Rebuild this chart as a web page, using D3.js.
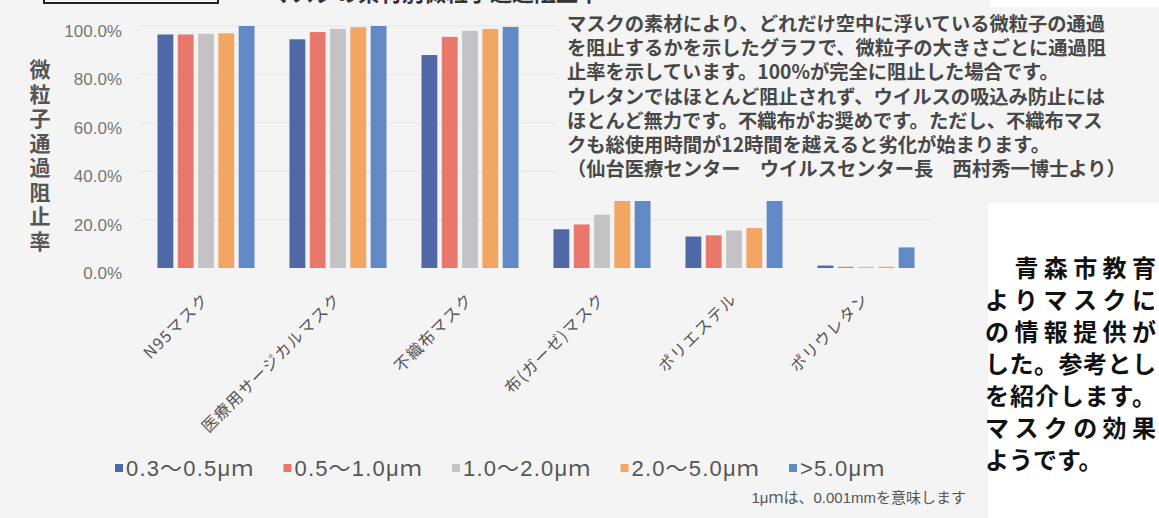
<!DOCTYPE html>
<html>
<head>
<meta charset="utf-8">
<script src="https://cdn.jsdelivr.net/npm/d3@7"></script>
<style>
  body { margin: 0; background: #f4f4f4; }
  svg { display: block; }
</style>
</head>
<body>
<div id="chart"></div>
<script>
// data (percent blocked)
const categories = ["N95マスク", "医療用サージカルマスク", "不織布マスク", "布(ガーゼ)マスク", "ポリエステル", "ポリウレタン"];
const seriesNames = ["0.3～0.5μｍ", "0.5～1.0μｍ", "1.0～2.0μｍ", "2.0～5.0μｍ", ">5.0μｍ"];
const seriesColors = ["#5068a6", "#e8786b", "#c4c4c6", "#f2a662", "#6089c6"];
const s1 = [96.5, 94.5, 88.0, 16.0, 13.0, 1.0];
const s2 = [96.5, 97.5, 95.5, 18.0, 13.5, 0.5];
const s3 = [96.8, 98.8, 98.0, 22.0, 15.5, 0.5];
const s4 = [97.0, 99.5, 98.8, 30.0, 16.5, 0.5];
const s5 = [100.0, 100.0, 99.6, 31.0, 30.0, 8.5];
const yTicks = [0, 20, 40, 60, 80, 100];

const noteLines = [
  "マスクの素材により、どれだけ空中に浮いている微粒子の通過",
  "を阻止するかを示したグラフで、微粒子の大きさごとに通過阻",
  "止率を示しています。100%が完全に阻止した場合です。",
  "ウレタンではほとんど阻止されず、ウイルスの吸込み防止には",
  "ほとんど無力です。不織布がお奨めです。ただし、不織布マス",
  "クも総使用時間が12時間を越えると劣化が始まります。",
  "（仙台医療センター　ウイルスセンター長　西村秀一博士より）"
];
const sideLines = ["　青森市教育", "よりマスクに", "の情報提供が", "した。参考とし", "を紹介します。", "マスクの効果", "ようです。"];

const W = 1159, H = 518;
const latin = "'Liberation Sans', Arial, 'Noto Sans CJK JP', sans-serif";
const jp = "'Noto Sans CJK JP', sans-serif";

const svg = d3.select("#chart").append("svg")
  .attr("width", W).attr("height", H);

svg.append("rect").attr("width", W).attr("height", H).attr("fill", "#f4f4f4");

// scales
const x0 = d3.scaleBand().domain(categories).range([140, 932])
  .paddingInner(0.265).paddingOuter(0.1325);
const x1 = d3.scaleBand().domain(d3.range(5)).range([0, x0.bandwidth()])
  .paddingInner(0.22);
const y = d3.scaleLinear().domain([0, 100]).range([268, 26]);

// gridlines
svg.append("g").selectAll("line").data(yTicks.slice(1)).join("line")
  .attr("x1", 140).attr("x2", 932)
  .attr("y1", d => y(d)).attr("y2", d => y(d))
  .attr("stroke", "#e6e6e6").attr("stroke-width", 1);

// y axis
const yAxis = svg.append("g").attr("transform", "translate(122,0)")
  .call(d3.axisLeft(y).tickValues(yTicks).tickSize(0).tickPadding(0)
    .tickFormat(d => d.toFixed(1) + "%"));
yAxis.select(".domain").remove();
yAxis.selectAll("text").attr("font-family", latin).attr("font-size", 17)
  .attr("fill", "#777").attr("dy", "0.62em");

// bars
const series = [s1, s2, s3, s4, s5];
const groups = svg.append("g").selectAll("g").data(categories).join("g")
  .attr("transform", d => "translate(" + x0(d) + ",0)");
groups.selectAll("rect")
  .data((c, ci) => series.map((s, si) => ({ si, v: s[ci] })))
  .join("rect")
  .attr("x", d => x1(d.si))
  .attr("width", x1.bandwidth())
  .attr("y", d => y(d.v))
  .attr("height", d => y(0) - y(d.v))
  .attr("fill", d => seriesColors[d.si]);

// x labels
svg.append("g").selectAll("text").data(categories).join("text")
  .attr("transform", d => "translate(" + (x0(d) + x0.bandwidth() / 2 + 4) + ",300) rotate(-45)")
  .attr("text-anchor", "end")
  .attr("font-family", jp).attr("font-size", 16).attr("letter-spacing", 1.2)
  .attr("fill", "#555")
  .text(d => d);

// y title, vertical
svg.append("text")
  .attr("x", 40).attr("y", 59)
  .style("writing-mode", "vertical-rl")
  .attr("font-family", jp).attr("font-size", 21).attr("font-weight", "bold")
  .attr("letter-spacing", 3.5)
  .attr("fill", "#555").text("微粒子通過阻止率");

// note box over the chart (top right)
svg.append("rect").attr("x", 556).attr("y", 7).attr("width", 590).attr("height", 194)
  .attr("fill", "#f4f4f4");
svg.append("text")
  .attr("font-family", jp).attr("font-size", 19.3).attr("font-weight", "bold")
  .attr("fill", "#484848")
  .selectAll("tspan").data(noteLines).join("tspan")
  .attr("x", 567).attr("y", (d, i) => 31 + i * 24.2)
  .text(d => d);

// cut-off title and box at the top
svg.append("rect").attr("x", 44).attr("y", -30).attr("width", 174).attr("height", 33)
  .attr("fill", "none").attr("stroke", "#222").attr("stroke-width", 2);
svg.append("text").attr("x", 270).attr("y", 1)
  .attr("font-family", jp).attr("font-size", 22).attr("font-weight", "bold")
  .attr("fill", "#333").text("マスクの素材別微粒子通過阻止率");

// legend
const lx = d3.scalePoint().domain(seriesNames).range([115, 789]);
const legend = svg.append("g").attr("transform", "translate(0,468)");
legend.selectAll("rect").data(seriesNames).join("rect")
  .attr("x", d => lx(d)).attr("y", -4).attr("width", 8).attr("height", 8)
  .attr("fill", (d, i) => seriesColors[i]);
legend.selectAll("text").data(seriesNames).join("text")
  .attr("x", d => lx(d) + 11).attr("y", 0).attr("dy", "0.36em")
  .attr("font-family", latin).attr("font-size", 22).attr("fill", "#555")
  .text(d => d)
  .each(function () {
    const w = this.getComputedTextLength();
    d3.select(this).attr("textLength", w * 1.08).attr("lengthAdjust", "spacing");
  });

svg.append("text").attr("x", 966).attr("y", 503).attr("text-anchor", "end")
  .attr("font-family", latin).attr("font-size", 15).attr("fill", "#555")
  .text("1μｍは、0.001mmを意味します");

// page text on the right
svg.append("rect").attr("x", 988).attr("y", 203).attr("width", W - 988).attr("height", H - 203)
  .attr("fill", "#fff");
svg.append("rect").attr("x", 990).attr("y", 0).attr("width", W - 990).attr("height", 7)
  .attr("fill", "#fff");
svg.append("g").selectAll("text").data(sideLines).join("text")
  .attr("x", 985).attr("y", (d, i) => 268 + i * 32).attr("dy", "0.36em")
  .attr("font-family", jp).attr("font-size", 24).attr("font-weight", "bold")
  .attr("fill", "#111").text(d => d)
  .each(function (d, i) {
    if (i < sideLines.length - 1) {
      d3.select(this).attr("textLength", 171).attr("lengthAdjust", "spacing");
    }
  });
</script>
</body>
</html>
